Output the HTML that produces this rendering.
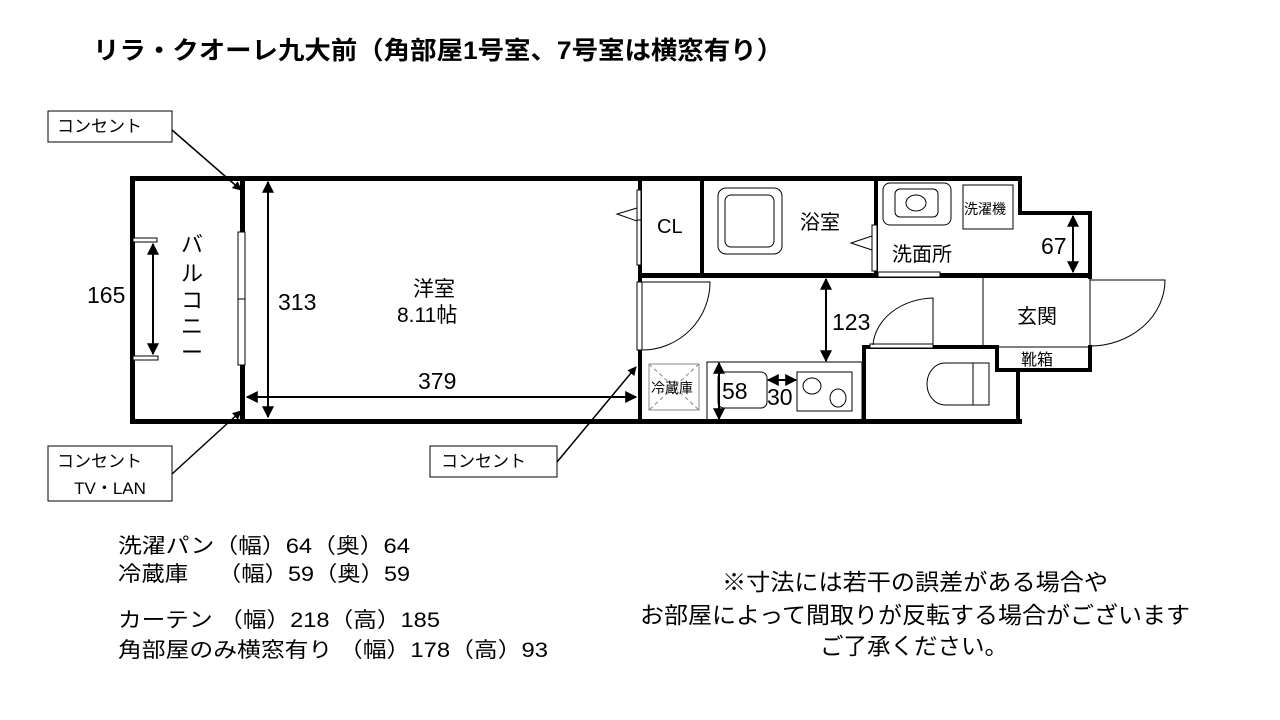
<!DOCTYPE html>
<html><head><meta charset="utf-8"><style>
html,body{margin:0;padding:0;background:#fff}
svg{display:block}
text{font-family:"Liberation Sans","Noto Sans CJK JP",sans-serif;fill:#000}
</style></head><body>
<svg width="1280" height="720" viewBox="0 0 1280 720" xmlns="http://www.w3.org/2000/svg">
<defs>
<marker id="a" viewBox="0 0 10 10" refX="9" refY="5" markerWidth="6" markerHeight="6" orient="auto-start-reverse"><path d="M0,0 L10,5 L0,10 z" fill="#000"/></marker>
</defs>
<text x="93" y="59" font-size="25" font-weight="bold" textLength="690" lengthAdjust="spacingAndGlyphs">リラ・クオーレ九大前（角部屋1号室、7号室は横窓有り）</text>

<g fill="#000">
<rect x="130" y="176" width="892" height="5"/>
<rect x="130" y="176" width="5" height="248"/>
<rect x="130" y="419" width="892" height="5"/>
<rect x="240" y="176" width="5" height="248"/>
<rect x="638" y="176" width="4" height="248"/>
<rect x="700" y="176" width="4" height="101"/>
<rect x="874" y="176" width="4" height="101"/>
<rect x="1018" y="176" width="4" height="39"/>
<rect x="1018" y="211" width="74" height="4"/>
<rect x="1088" y="211" width="4" height="68"/>
<rect x="638" y="273" width="454" height="5"/>
<rect x="862" y="345" width="136" height="4"/>
<rect x="862" y="345" width="4" height="79"/>
<rect x="995" y="345" width="4" height="27"/>
<rect x="995" y="368" width="97" height="4"/>
<rect x="1088" y="345" width="4" height="27"/>
<rect x="1016" y="368" width="4" height="56"/>
</g>
<g fill="#fff" stroke="#000" stroke-width="1">
<rect x="238" y="232" width="7" height="67"/>
<rect x="238" y="299" width="7" height="66"/>
<rect x="133" y="238" width="24" height="4"/>
<rect x="133" y="356" width="25" height="4"/>
<rect x="637" y="190" width="4" height="30"/>
<rect x="637" y="220" width="4" height="45"/>
<rect x="637" y="282" width="5" height="68"/>
<rect x="872" y="225" width="5" height="46"/>
<rect x="878" y="272" width="62" height="5"/>
<rect x="870" y="344" width="63" height="4"/>
</g>
<g fill="none" stroke="#000" stroke-width="1">
<line x1="983" y1="278" x2="983" y2="345"/>
<line x1="1090" y1="278" x2="1090" y2="345"/>
<line x1="999" y1="347" x2="1090" y2="347"/>
<path d="M1090,280 L1165,280 A75,66 0 0 1 1090,346"/>
<path d="M933,345 L933,298 A62,50 0 0 0 873,345"/>
<path d="M642,282 L710,282 A68,68 0 0 1 642,350"/>
<path d="M637,208 L617,214 L637,221"/>
<path d="M872,236 L851,243 L872,250"/>
<rect x="718" y="188" width="64" height="66" rx="8"/>
<rect x="725" y="195" width="49" height="52" rx="6"/>
<rect x="883" y="183" width="68" height="42" rx="7"/>
<rect x="895" y="189" width="43" height="28" rx="5"/>
<ellipse cx="916" cy="203" rx="10" ry="8"/>
<rect x="963" y="185" width="50" height="44"/>
<path d="M973,363 L945,363 A18,21 0 0 0 945,405 L973,405 Z"/>
<rect x="973" y="363" width="16" height="42"/>
<rect x="707" y="362" width="155" height="58"/>
<rect x="718" y="372" width="49" height="36" rx="6"/>
<rect x="797" y="372" width="55" height="39"/>
<ellipse cx="812" cy="386" rx="9" ry="8"/>
<ellipse cx="838" cy="398" rx="8" ry="9"/>
<rect x="649" y="364" width="50" height="46" stroke="#888"/>
<path d="M649,364 L699,410 M699,364 L649,410" stroke="#888" stroke-dasharray="4,3"/>
</g>
<g stroke="#000" stroke-width="2" marker-start="url(#a)" marker-end="url(#a)">
<line x1="153" y1="244" x2="153" y2="354"/>
<line x1="268" y1="182" x2="268" y2="417"/>
<line x1="247" y1="397" x2="636" y2="397"/>
<line x1="826" y1="279" x2="826" y2="361"/>
<line x1="719" y1="363" x2="719" y2="419"/>
<line x1="768" y1="380" x2="796" y2="380"/>
<line x1="1073" y1="216" x2="1073" y2="272"/>
</g>
<g stroke="#000" stroke-width="1.5" marker-end="url(#a)">
<line x1="172" y1="130" x2="241" y2="190"/>
<line x1="172" y1="474" x2="241" y2="411"/>
<line x1="557" y1="462" x2="636" y2="367"/>
</g>
<g fill="#fff" stroke="#000" stroke-width="1">
<rect x="48" y="111" width="124" height="31"/>
<rect x="48" y="446" width="124" height="55"/>
<rect x="430" y="446" width="127" height="31"/>
</g>
<g font-size="17">
<text x="57" y="132">コンセント</text>
<text x="57" y="467">コンセント</text>
<text x="110" y="494" text-anchor="middle">TV・LAN</text>
<text x="441" y="467">コンセント</text>
</g>
<g font-size="23">
<text x="87" y="303">165</text>
<text x="278" y="310">313</text>
<text x="418" y="389">379</text>
<text x="832" y="330">123</text>
<text x="722" y="399">58</text>
<text x="767" y="405">30</text>
<text x="1041" y="254">67</text>
</g>
<g font-size="20">
<text x="657" y="233">CL</text>
<text x="800" y="229">浴室</text>
<text x="892" y="261">洗面所</text>
<text x="1017" y="323">玄関</text>
</g>
<text x="413" y="296" font-size="21">洋室</text>
<text x="397" y="322" font-size="21">8.11帖</text>
<g font-size="22">
<text x="181" y="252">バ</text>
<text x="181" y="281">ル</text>
<text x="181" y="308">コ</text>
<text x="181" y="334">ニ</text>
<text x="181" y="360">ー</text>
</g>
<text x="964" y="214" font-size="14">洗濯機</text>
<text x="1021" y="365" font-size="16">靴箱</text>
<text x="651" y="393" font-size="14">冷蔵庫</text>
<g font-size="21" lengthAdjust="spacingAndGlyphs">
<text x="118" y="553" textLength="292" lengthAdjust="spacingAndGlyphs">洗濯パン（幅）64（奥）64</text>
<text x="118" y="581" textLength="292" lengthAdjust="spacingAndGlyphs">冷蔵庫　 （幅）59（奥）59</text>
<text x="118" y="627" textLength="322" lengthAdjust="spacingAndGlyphs">カーテン （幅）218（高）185</text>
<text x="118" y="657" textLength="430" lengthAdjust="spacingAndGlyphs">角部屋のみ横窓有り （幅）178（高）93</text>
</g>
<g font-size="23">
<text x="722" y="590" textLength="386" lengthAdjust="spacingAndGlyphs">※寸法には若干の誤差がある場合や</text>
<text x="640" y="623" textLength="550" lengthAdjust="spacingAndGlyphs">お部屋によって間取りが反転する場合がございます</text>
<text x="820" y="654" textLength="188" lengthAdjust="spacingAndGlyphs">ご了承ください。</text>
</g>
</svg>
</body></html>
